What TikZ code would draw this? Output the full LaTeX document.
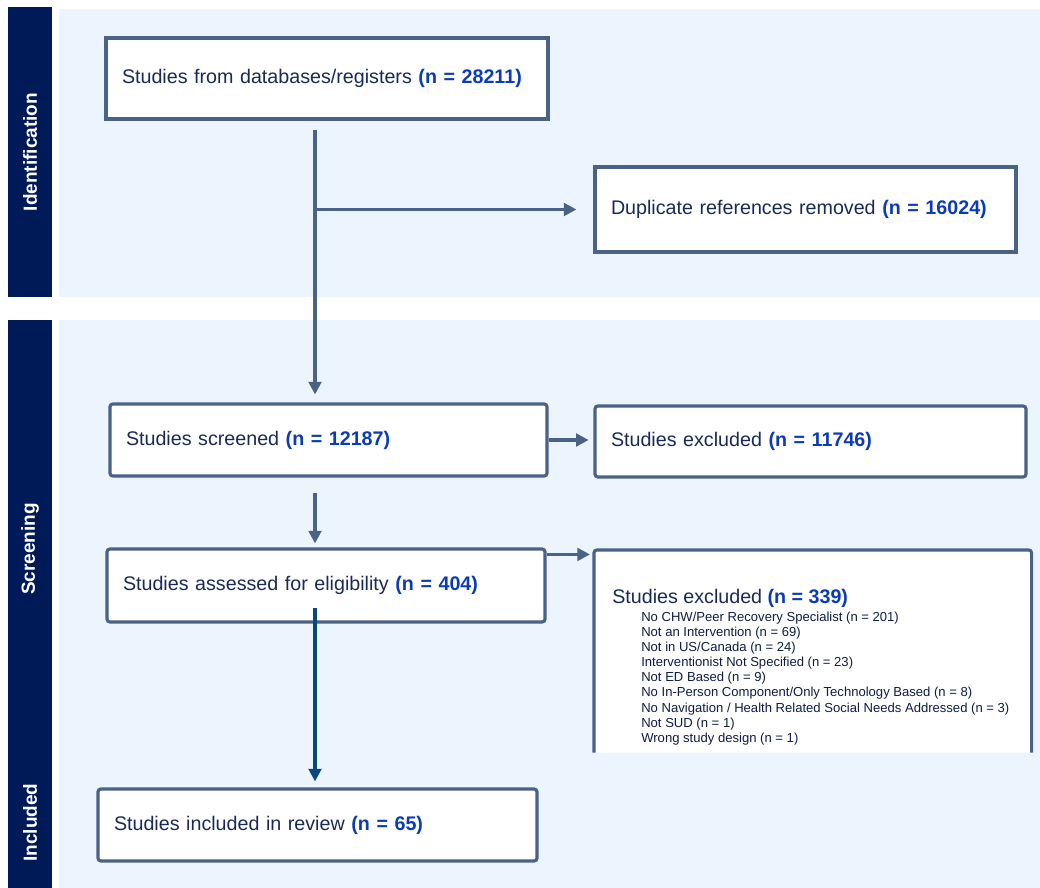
\documentclass[tikz,border=0pt]{standalone}
\usepackage{fontspec}
\setmainfont{Liberation Sans}
\usepackage{tikz}
\usetikzlibrary{arrows.meta, positioning, calc}
\definecolor{phasenavy}{HTML}{001A57}
\definecolor{bandblue}{HTML}{ECF4FE}
\definecolor{edgegray}{HTML}{4A6285}
\definecolor{textnavy}{HTML}{1B2A55}
\definecolor{listnavy}{HTML}{101C45}
\definecolor{countblue}{HTML}{0B3BB5}
\definecolor{finalteal}{HTML}{0A4A7A}
\newcommand{\cnt}[1]{\textcolor{countblue}{\textbf{(n = #1)}}}

\begin{document}
\begin{tikzpicture}[>={Triangle[length=9pt, width=9pt]}, font=\fontsize{14}{16}\selectfont,
    phase/.style={fill=phasenavy, text=white, font=\bfseries\fontsize{13.5}{15}\selectfont,
                  rotate=90, minimum height=1.1cm, inner sep=0pt},
    stage/.style={draw=edgegray, line width=2.2pt, fill=white, text=textnavy, align=left,
                  inner xsep=0.4cm, inner ysep=0pt},
    flow/.style={->, draw=edgegray, line width=2.2pt}]
    \useasboundingbox (0, 0) rectangle (26, 22.2);

    % Bands
    \fill[bandblue] (1.475, 14.775) rectangle (26, 21.975);
    \fill[bandblue] (1.475, 0) rectangle (26, 14.2);

    % Phase labels
    \node[phase, minimum width=7.25cm] (ident) at (0.75, 18.4) {Identification};
    \node[phase, minimum width=11.45cm] (screen) at (0.75, 8.475) {Screening};
    \node[phase, minimum width=3.275cm] (inclphase) at (0.75, 1.6375) {Included};

    % Identification
    \node[stage, text width=10.25cm, minimum height=2.025cm] (src) at (8.175, 20.2375)
        {Studies from databases/registers \cnt{28211}};
    \node[stage, text width=9.725cm, minimum height=2.125cm] (dup) at (20.1375, 16.9625)
        {Duplicate references removed \cnt{16024}};

    % Screening
    \node[stage, rounded corners=2pt, text width=10.125cm, minimum height=1.8cm] (scr) at (8.2125, 11.2)
        {Studies screened \cnt{12187}};
    \node[stage, rounded corners=2pt, text width=9.975cm, minimum height=1.775cm] (exc) at (20.2625, 11.1625)
        {Studies excluded \cnt{11746}};
    \node[stage, rounded corners=2pt, text width=10.15cm, minimum height=1.825cm] (elig) at (8.15, 7.5625)
        {Studies assessed for eligibility \cnt{404}};

    % Excluded at eligibility (box open at the bottom)
    \node[inner sep=0pt, minimum width=10.925cm, minimum height=5.05cm, anchor=north west] (exc2) at (14.85, 8.45) {};
    \draw[edgegray, line width=2.2pt, rounded corners=2pt, fill=white]
        (exc2.south west) -- (exc2.north west) -- (exc2.north east) -- (exc2.south east);
    \node[anchor=base west, text=textnavy, inner sep=0pt] (exc2head) at ($(exc2.north west)+(0.45,-1.35)$)
        {Studies excluded \cnt{339}};
    \node[anchor=north west, inner sep=0pt, align=left, text=listnavy,
          font=\fontsize{9.3}{10.7}\selectfont] (exc2list) at ($(exc2head.base west)+(0.725,-0.2)$)
        {No CHW/Peer Recovery Specialist (n = 201)\\
         Not an Intervention (n = 69)\\
         Not in US/Canada (n = 24)\\
         Interventionist Not Specified (n = 23)\\
         Not ED Based (n = 9)\\
         No In-Person Component/Only Technology Based (n = 8)\\
         No Navigation / Health Related Social Needs Addressed (n = 3)\\
         Not SUD (n = 1)\\
         Wrong study design (n = 1)};

    % Included
    \node[stage, rounded corners=2pt, text width=10.175cm, minimum height=1.8cm] (incl) at (7.9375, 1.575)
        {Studies included in review \cnt{65}};

    % Arrows
    \coordinate (spine) at (7.875, 0);
    \draw[flow, shorten <=0.225cm, shorten >=0.2cm] (src.south -| spine) -- (scr.north -| spine);
    \draw[flow, shorten >=0.425cm] (spine |- dup.west) -- (dup.west);
    \draw[flow, shorten >=0.12cm] (scr.east) -- (scr.east -| exc.west);
    \draw[flow, shorten <=0.375cm, shorten >=0.1cm] (scr.south -| spine) -- (elig.north -| spine);
    \draw[flow, shorten >=0.1cm] ([yshift=-0.175cm]elig.north east) -- ([yshift=-0.175cm]elig.north east -| exc2.west);
    \draw[flow, draw=finalteal, shorten <=-0.4cm, shorten >=0.15cm] (elig.south -| spine) -- (incl.north -| spine);

\end{tikzpicture}
\end{document}
